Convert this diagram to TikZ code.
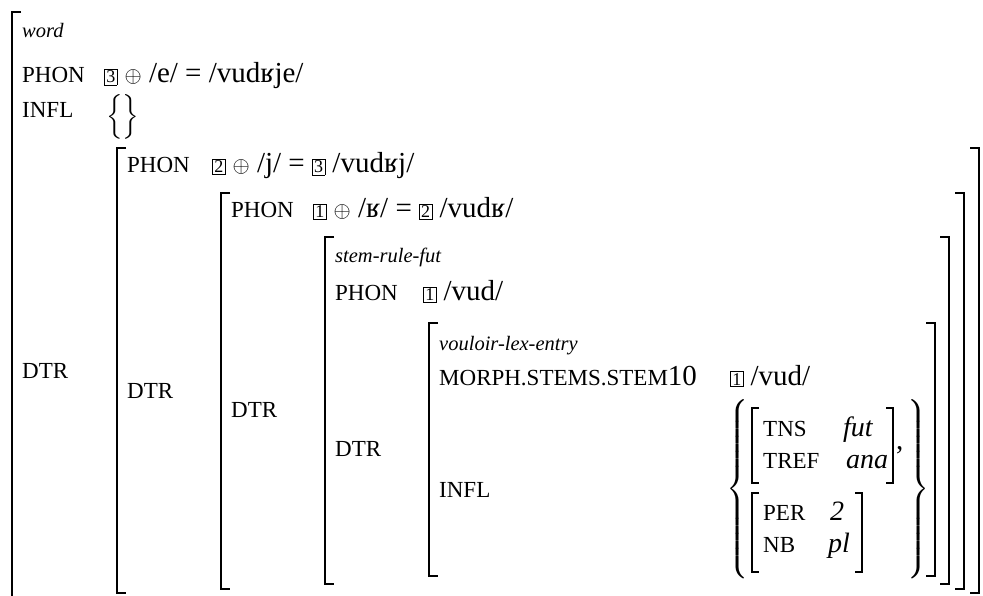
\RequirePackage{fix-cm}
\documentclass[tikz,border=0pt]{standalone}
\usepackage{exscale}
\usepackage{fontspec}
\setmainfont{Liberation Serif}
\usetikzlibrary{positioning}
\newcommand{\avmtag}[1]{{\setlength{\fboxsep}{1.4pt}\setlength{\fboxrule}{0.7pt}\fbox{\fontsize{18}{18}\selectfont #1}}}
\newcommand{\avmplus}{{\fontsize{22}{22}\selectfont$\oplus$}}
\tikzset{
  avmattr/.style={anchor=base west, inner sep=0pt, font=\fontsize{23}{27}\selectfont},
  avmtype/.style={anchor=base west, inner sep=0pt, font=\fontsize{20.5}{25}\selectfont\itshape},
  avmval/.style={anchor=base west, inner sep=0pt, font=\fontsize{29}{34}\selectfont},
  avmatom/.style={avmval, font=\fontsize{28}{34}\selectfont\itshape},
  avmbrace/.style={inner sep=0pt, font=\fontsize{28}{34}\selectfont},
  avmbracket/.style={line width=1.7pt, line join=miter},
  subbracket/.style={line width=1.1pt, line join=miter},
}

\begin{document}
\begin{tikzpicture}[x=1pt, y=-1pt]
  \useasboundingbox (0,0) rectangle (983,596);

  % word
  \draw[avmbracket] (21,12) -- (12,12) -- (12,600);
  \node[avmtype] (wordtype) at (22,38) {word};
  \node[avmattr] (phon1) at (22,83) {PHON};
  \node[avmval] (phonval1) at (104,83) {\avmtag{3} \avmplus{} /e/ = /vudʁje/};
  \node[avmattr] (infl1) at (22,118) {INFL};
  \node[avmbrace, font=\fontsize{26}{30}\selectfont] (inflset1) at (123,117) {$\left\{\vrule height 16pt depth 16pt width 0pt\right\}$};
  \node[avmattr] (dtr1) at (22,378) {DTR};

  % nested daughters
  \foreach \xl/\xr/\yt/\yb in {117/979/148/593, 221/964/193/589, 325/949/237/584, 429/935/323/576} {
    \draw[avmbracket] (\xl+9,\yt) -- (\xl,\yt) -- (\xl,\yb) -- (\xl+9,\yb);
    \draw[avmbracket] (\xr-9,\yt) -- (\xr,\yt) -- (\xr,\yb) -- (\xr-9,\yb);
  }

  \node[avmattr] (phon2) at (127,173) {PHON};
  \node[avmval] (phonval2) at (212,173) {\avmtag{2} \avmplus{} /j/ = \avmtag{3} /vudʁj/};
  \node[avmattr] (dtr2) at (127,398) {DTR};

  \node[avmattr] (phon3) at (231,218) {PHON};
  \node[avmval] (phonval3) at (313,218) {\avmtag{1} \avmplus{} /ʁ/ = \avmtag{2} /vudʁ/};
  \node[avmattr] (dtr3) at (231,417) {DTR};

  \node[avmtype] (stemtype) at (335,262) {stem-rule-fut};
  \node[avmattr] (phon4) at (335,301) {PHON};
  \node[avmval] (phonval4) at (423,301) {\avmtag{1} /vud/};
  \node[avmattr] (dtr4) at (335,456) {DTR};

  % lexical entry
  \node[avmtype] (lextype) at (439,350) {vouloir-lex-entry};
  \node[avmattr] (stem10) at (439,385) {MORPH.STEMS.STEM{\fontsize{29}{34}\selectfont 10}};
  \node[avmval] (stemval) at (730,385) {\avmtag{1} /vud/};
  \node[avmattr] (infl5) at (439,497) {INFL};
  \node[avmbrace] (setopen) at (738,489) {$\left\{\vrule height 82pt depth 82pt width 0pt\right.$};
  \node[avmbrace] (setclose) at (918,489) {$\left.\vrule height 82pt depth 82pt width 0pt\right\}$};

  \draw[subbracket] (759,408) -- (752,408) -- (752,483) -- (759,483);
  \draw[subbracket] (886,408) -- (893,408) -- (893,483) -- (886,483);
  \node[avmattr] (tns) at (763,436) {TNS};
  \node[avmatom] (tnsval) at (843,436) {fut};
  \node[avmattr] (tref) at (763,468) {TREF};
  \node[avmatom] (trefval) at (846,468) {ana};
  \node[avmval] (setcomma) at (896,449) {,};

  \draw[subbracket] (759,493) -- (752,493) -- (752,572) -- (759,572);
  \draw[subbracket] (855,493) -- (862,493) -- (862,572) -- (855,572);
  \node[avmattr] (per) at (763,520) {PER};
  \node[avmatom] (perval) at (830,520) {2};
  \node[avmattr] (nb) at (763,552) {NB};
  \node[avmatom] (nbval) at (828,552) {pl};
\end{tikzpicture}
\end{document}
